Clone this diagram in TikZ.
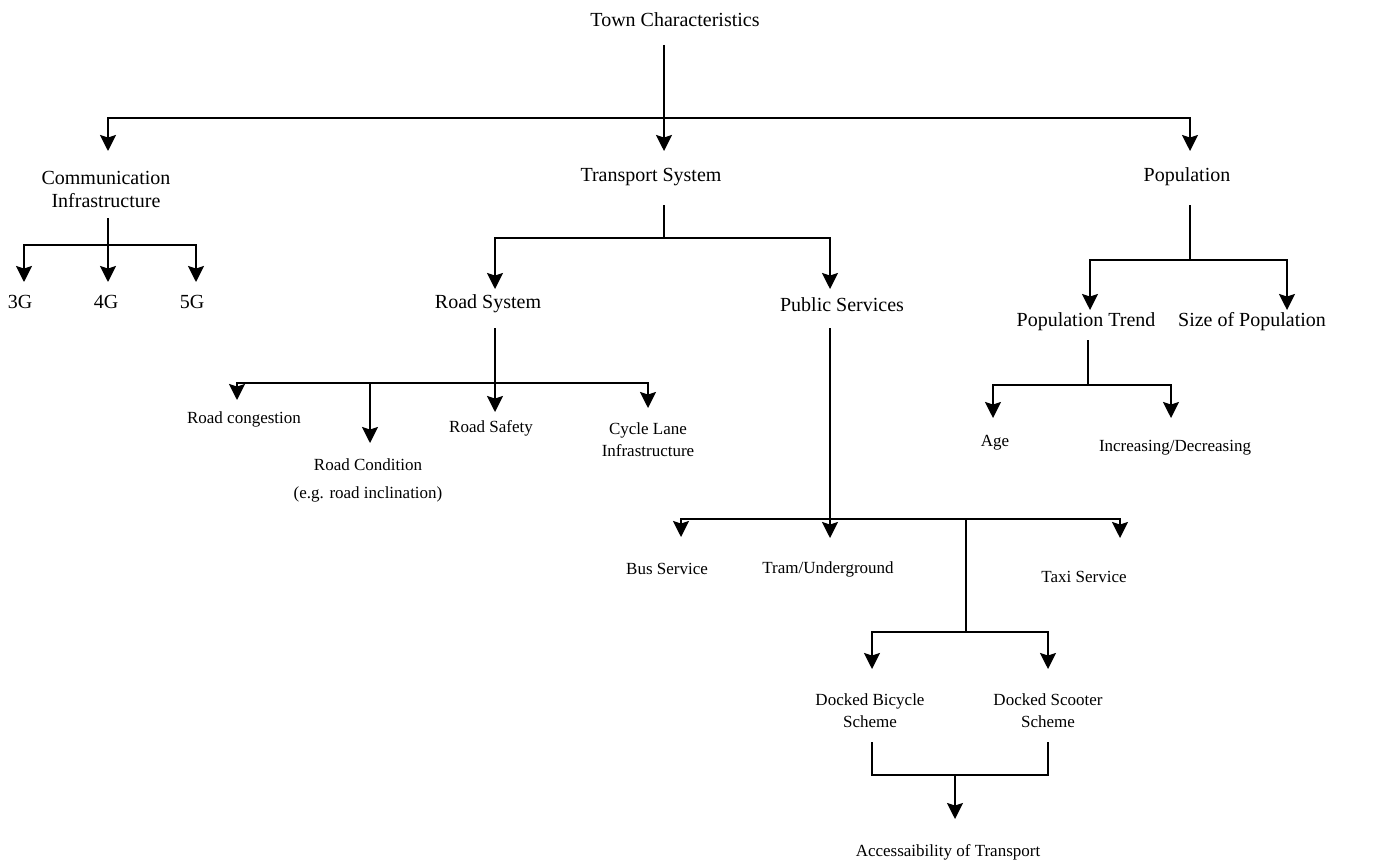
\documentclass[tikz,border=0pt]{standalone}
\usepackage{fontspec}
\setmainfont{Liberation Serif}
\usetikzlibrary{arrows.meta}
\begin{document}
\begin{tikzpicture}[x=1pt,y=-1pt,
  line/.style={line width=1.6pt},
  arr/.style={line width=1.6pt,-{Stealth[length=16pt,width=16pt,inset=2.5pt]}},
  big/.style={font=\fontsize{20}{23}\selectfont,inner sep=0pt,align=center},
  small/.style={font=\fontsize{17}{22}\selectfont,inner sep=0pt,align=center}]
\useasboundingbox (0,0) rectangle (1381,864);
% nodes
\node[big] (town) at (675,20) {Town Characteristics};
\node[big] (comm) at (106,189) {Communication\\Infrastructure};
\node[big] (trans) at (651,177) {Transport System};
\node[big] (pop) at (1187,177) {Population};
\node[big] (g3) at (20,302) {3G};
\node[big] (g4) at (106,302) {4G};
\node[big] (g5) at (192,302) {5G};
\node[big] (road) at (488,304) {Road System};
\node[big] (pub) at (842,305) {Public Services};
\node[big] (ptrend) at (1086,322) {Population Trend};
\node[big] (psize) at (1252,322) {Size of Population};
\node[small] (cong) at (244,419) {Road congestion};
\node[small] (cond) at (368,480) {Road Condition\\[6pt](e.g. road inclination)};
\node[small] (safe) at (491,428) {Road Safety};
\node[small] (cycle) at (648,440) {Cycle Lane\\Infrastructure};
\node[small] (bus) at (667,569) {Bus Service};
\node[small] (tram) at (828,569) {Tram/Underground};
\node[small] (taxi) at (1084,577) {Taxi Service};
\node[small] (bike) at (870,711) {Docked Bicycle\\Scheme};
\node[small] (scoot) at (1048,711) {Docked Scooter\\Scheme};
\node[small] (acc) at (948,852) {Accessaibility of Transport};
\node[small] (age) at (995,443) {Age};
\node[small] (incr) at (1175,448) {Increasing/Decreasing};
% junction and tip coordinates
\coordinate (tJ) at (664,118);
\coordinate (tS) at (664,45);
\coordinate (tipComm) at (108,151);
\coordinate (tipTrans) at (664,151);
\coordinate (tipPop) at (1190,151);
\coordinate (cS) at (108,218);
\coordinate (cJ) at (108,245);
\coordinate (tip3) at (24,282);
\coordinate (tip4) at (108,282);
\coordinate (tip5) at (196,282);
\coordinate (tsS) at (664,205);
\coordinate (tsJ) at (664,238);
\coordinate (tipRoad) at (495,289);
\coordinate (tipPub) at (830,289);
\coordinate (rS) at (495,328);
\coordinate (rJ) at (495,383);
\coordinate (tipCong) at (237,400);
\coordinate (tipCond) at (370,443);
\coordinate (tipSafe) at (495,412);
\coordinate (tipCycle) at (648,408);
\coordinate (pS) at (830,328);
\coordinate (pJ) at (830,519);
\coordinate (tipBus) at (681,537);
\coordinate (tipTram) at (830,538);
\coordinate (tipTaxi) at (1120,538);
\coordinate (pJ2) at (966,519);
\coordinate (dJ) at (966,632);
\coordinate (tipBike) at (872,669);
\coordinate (tipScoot) at (1048,669);
\coordinate (bS) at (872,742);
\coordinate (sS) at (1048,742);
\coordinate (aJ) at (955,775);
\coordinate (tipAcc) at (955,819);
\coordinate (popS) at (1190,205);
\coordinate (popJ) at (1190,260);
\coordinate (tipTrend) at (1090,310);
\coordinate (tipSize) at (1287,310);
\coordinate (ptS) at (1088,340);
\coordinate (ptJ) at (1088,385);
\coordinate (tipAge) at (993,418);
\coordinate (tipIncr) at (1171,418);
% connectors
\draw[arr] (tS) -- (tipTrans);
\draw[arr] (tJ) -| (tipComm);
\draw[arr] (tJ) -| (tipPop);
\draw[line] (cS) -- (cJ);
\draw[arr] (cJ) -| (tip3);
\draw[arr] (cJ) -- (tip4);
\draw[arr] (cJ) -| (tip5);
\draw[line] (tsS) -- (tsJ);
\draw[arr] (tsJ) -| (tipRoad);
\draw[arr] (tsJ) -| (tipPub);
\draw[arr] (rS) -- (tipSafe);
\draw[arr] (rJ) -| (tipCong);
\draw[arr] (rJ) -| (tipCond);
\draw[arr] (rJ) -| (tipCycle);
\draw[arr] (pS) -- (tipTram);
\draw[arr] (pJ) -| (tipBus);
\draw[arr] (pJ) -| (tipTaxi);
\draw[line] (pJ2) -- (dJ);
\draw[arr] (dJ) -| (tipBike);
\draw[arr] (dJ) -| (tipScoot);
\draw[line] (bS) |- (aJ);
\draw[line] (sS) |- (aJ);
\draw[arr] (aJ) -- (tipAcc);
\draw[line] (popS) -- (popJ);
\draw[arr] (popJ) -| (tipTrend);
\draw[arr] (popJ) -| (tipSize);
\draw[line] (ptS) -- (ptJ);
\draw[arr] (ptJ) -| (tipAge);
\draw[arr] (ptJ) -| (tipIncr);
\end{tikzpicture}
\end{document}
